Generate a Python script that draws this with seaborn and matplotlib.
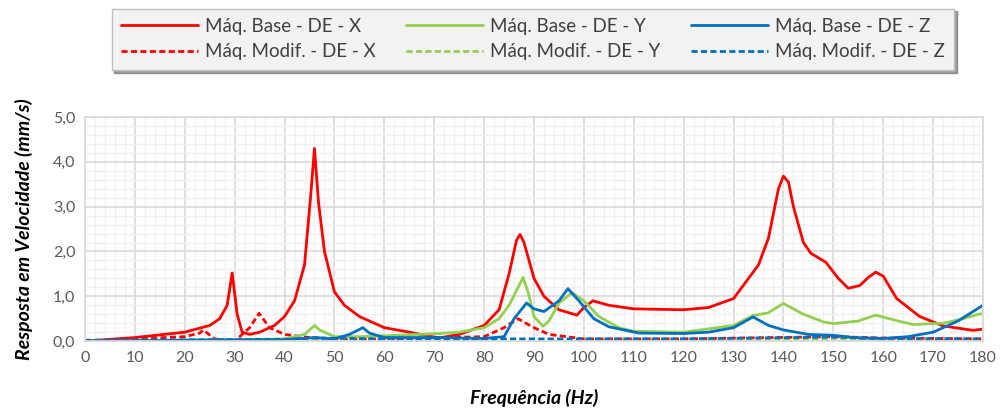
import pandas as pd
import matplotlib.pyplot as plt
import seaborn as sns
from matplotlib.lines import Line2D

# valores (Hz, mm/s)
freq_base_x = [0, 10, 20, 25, 27, 28.5, 29.5, 30.5, 31.5, 33, 35, 38, 40, 42, 44, 45.2, 46, 46.8, 48, 50, 52, 55,
               60, 65, 71, 75, 80, 83, 85, 86.5, 87.2, 88, 90, 92, 95, 98.6, 100, 101.8, 105, 110, 120, 125, 130, 132,
               135, 137, 139, 140, 141, 142, 144, 145.5, 148.5, 151, 153, 155.3, 157, 158.5, 160, 162.7, 167.3, 172,
               178, 180]
vel_base_x = [0, 0.08, 0.2, 0.35, 0.5, 0.8, 1.52, 0.6, 0.2, 0.15, 0.2, 0.35, 0.55, 0.9, 1.7, 3.2, 4.3, 3.1, 2.0, 1.1,
              0.8, 0.55, 0.3, 0.2, 0.07, 0.15, 0.35, 0.7, 1.5, 2.25, 2.38, 2.2, 1.4, 1.0, 0.7, 0.58, 0.75, 0.9, 0.8,
              0.72, 0.7, 0.75, 0.95, 1.25, 1.7, 2.3, 3.4, 3.68, 3.55, 3.0, 2.2, 1.96, 1.76, 1.4, 1.18, 1.24, 1.42,
              1.54, 1.45, 0.95, 0.55, 0.34, 0.24, 0.27]

freq_base_y = [0, 20, 40, 44, 46, 47, 50, 55, 60, 71, 75, 80, 83, 85, 87.8, 88.8, 90, 91.8, 93, 95, 97.6, 100,
               103, 107, 110, 120, 130, 133.9, 136.9, 140, 144, 148, 150, 155, 158.5, 163, 166, 172, 176, 179.4, 180]
vel_base_y = [0, 0.02, 0.05, 0.15, 0.35, 0.25, 0.1, 0.1, 0.12, 0.17, 0.2, 0.3, 0.5, 0.8, 1.42, 1.1, 0.55, 0.33,
              0.45, 0.85, 1.08, 0.9, 0.55, 0.3, 0.22, 0.2, 0.35, 0.57, 0.63, 0.84, 0.6, 0.43, 0.39, 0.45, 0.58,
              0.45, 0.37, 0.4, 0.5, 0.61, 0.6]

freq_base_z = [0, 20, 40, 46, 50, 53, 55.7, 57, 60, 70, 80, 84, 86, 88.5, 90, 92, 95, 96.8, 99, 102, 105, 111,
               120, 125, 130, 133.9, 137, 140, 145, 150, 155, 160, 165, 170, 175, 180]
vel_base_z = [0, 0.02, 0.03, 0.08, 0.05, 0.15, 0.3, 0.18, 0.08, 0.08, 0.06, 0.1, 0.5, 0.85, 0.72, 0.66, 0.9, 1.17,
              0.9, 0.5, 0.32, 0.18, 0.17, 0.2, 0.3, 0.54, 0.35, 0.25, 0.15, 0.13, 0.07, 0.06, 0.1, 0.2, 0.45, 0.8]

freq_mod_x = [0, 20, 23, 23.7, 26, 30, 33, 34.9, 37, 40, 45, 50, 60, 80, 84, 86.8, 90, 93, 100, 120, 150, 160, 180]
vel_mod_x = [0, 0.1, 0.18, 0.25, 0.05, 0.0, 0.3, 0.62, 0.3, 0.15, 0.08, 0.05, 0.05, 0.1, 0.3, 0.5, 0.3, 0.15,
             0.05, 0.05, 0.1, 0.07, 0.05]

freq_mod_y = [0, 40, 46, 60, 90, 120, 150, 160, 180]
vel_mod_y = [0, 0.02, 0.05, 0.03, 0.03, 0.03, 0.06, 0.04, 0.03]

freq_mod_z = [0, 40, 46, 60, 90, 120, 150, 160, 180]
vel_mod_z = [0.02, 0.04, 0.07, 0.05, 0.05, 0.05, 0.09, 0.06, 0.05]

series = [
    ('Máq. Base - DE - X', freq_base_x, vel_base_x),
    ('Máq. Modif. - DE - X', freq_mod_x, vel_mod_x),
    ('Máq. Base - DE - Y', freq_base_y, vel_base_y),
    ('Máq. Modif. - DE - Y', freq_mod_y, vel_mod_y),
    ('Máq. Base - DE - Z', freq_base_z, vel_base_z),
    ('Máq. Modif. - DE - Z', freq_mod_z, vel_mod_z),
]
cores = {'X': '#FF0000', 'Y': '#92D050', 'Z': '#0070C0'}

sns.set_theme(style='white')
plt.rcParams['font.family'] = ['Lato', 'DejaVu Sans']

fig = plt.figure(figsize=(10, 4.12), dpi=100)
ax = fig.add_axes([0.085, 0.172, 0.898, 0.544])

handles = []
for nome, f, v in series:
    cor = cores[nome[-1]]
    estilo = (0, (2.2, 1.2)) if 'Modif' in nome else '-'
    sns.lineplot(x=f, y=v, ax=ax, color=cor, linewidth=2.0, sort=False, linestyle=estilo)
    handles.append(Line2D([], [], color=cor, linewidth=2.0, linestyle=estilo, label=nome))

ax.set_xlim(0, 180)
ax.set_ylim(0, 5)
ax.set_xticks(range(0, 181, 10))
ax.set_xticks(range(0, 181, 2), minor=True)
ax.set_yticks([0, 1, 2, 3, 4, 5])
ax.set_yticks([i * 0.2 for i in range(26)], minor=True)
ax.set_yticklabels([f'{v:.1f}'.replace('.', ',') for v in range(6)])
ax.grid(which='major', color='#d9d9d9', linewidth=1.2)
ax.grid(which='minor', color='#f0f0f0', linewidth=1.0)
ax.set_axisbelow(True)
for s in ax.spines.values():
    s.set_color('#d9d9d9')
ax.tick_params(which='both', length=0, labelsize=11.5, colors='#595959', pad=7)

ax.set_xlabel('Frequência (Hz)', fontsize=14, fontweight='bold', fontstyle='italic', color='black', labelpad=17)
ax.set_ylabel('Resposta em Velocidade (mm/s)', fontsize=14, fontweight='bold', fontstyle='italic', color='black',
              labelpad=14)

leg = fig.legend(handles=handles, ncol=3, loc='center', bbox_to_anchor=(0.533, 0.905),
                 fontsize=13.5, frameon=True, fancybox=False, shadow=True,
                 handlelength=4.1, columnspacing=1.6, handletextpad=0.4, borderpad=0.5, labelspacing=0.45)
leg.get_frame().set_facecolor('#f2f2f2')
leg.get_frame().set_edgecolor('#bfbfbf')
for t in leg.get_texts():
    t.set_color('#404040')

fig.savefig('out.png', dpi=100)
